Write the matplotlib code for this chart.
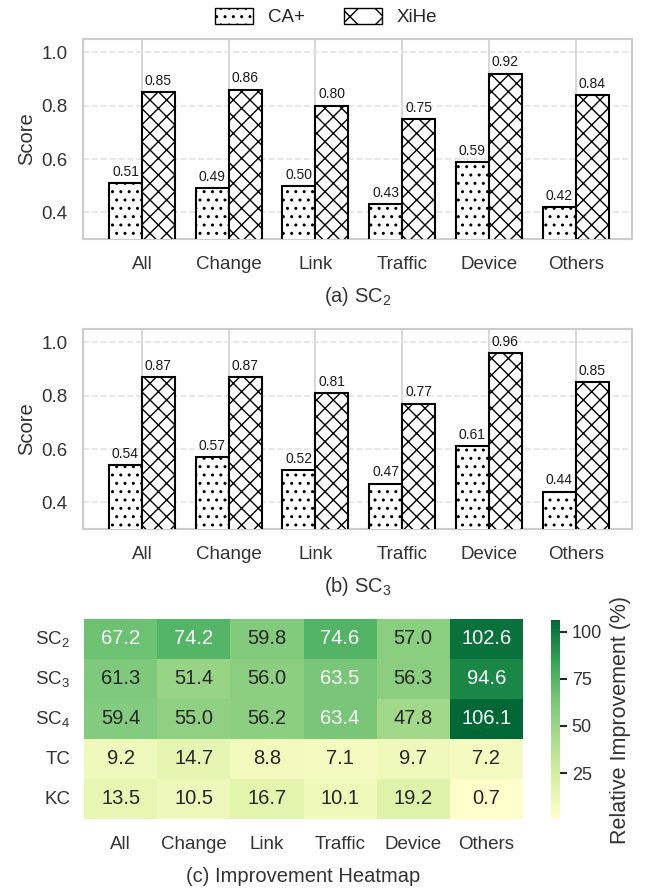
import numpy as np
import matplotlib.pyplot as plt
import matplotlib.patches as mpatches
from matplotlib.colors import LinearSegmentedColormap
import seaborn as sns

categories = ['All', 'Change', 'Link', 'Traffic', 'Device', 'Others']
sc2_ca = [0.51, 0.49, 0.50, 0.43, 0.59, 0.42]
sc2_xihe = [0.85, 0.86, 0.80, 0.75, 0.92, 0.84]
sc3_ca = [0.54, 0.57, 0.52, 0.47, 0.61, 0.44]
sc3_xihe = [0.87, 0.87, 0.81, 0.77, 0.96, 0.85]
heat_rows = ['SC$_2$', 'SC$_3$', 'SC$_4$', 'TC', 'KC']
heat_vals = [
    [67.2, 74.2, 59.8, 74.6, 57.0, 102.6],
    [61.3, 51.4, 56.0, 63.5, 56.3, 94.6],
    [59.4, 55.0, 56.2, 63.4, 47.8, 106.1],
    [9.2, 14.7, 8.8, 7.1, 9.7, 7.2],
    [13.5, 10.5, 16.7, 10.1, 19.2, 0.7],
]

sns.set_theme(style='whitegrid')
plt.rcParams['font.family'] = ['Liberation Sans', 'DejaVu Sans']
plt.rcParams['mathtext.fontset'] = 'custom'
plt.rcParams['mathtext.rm'] = 'Liberation Sans'
plt.rcParams['mathtext.it'] = 'Liberation Sans:italic'
plt.rcParams['hatch.linewidth'] = 1.0

# 6-class brewer YlGn
ylgn6 = LinearSegmentedColormap.from_list(
    'ylgn6', ['#ffffcc', '#d9f0a3', '#addd8e', '#78c679', '#31a354', '#006837'])

W, H = 646, 888
fig = plt.figure(figsize=(W / 100, H / 100), dpi=100)


def box(l, t, r, b):
    # pixel box -> figure fraction
    return [l / W, 1 - b / H, (r - l) / W, (b - t) / H]


def bar_panel(ax, ca, xihe, label):
    x = np.arange(len(categories))
    w = 0.38
    b1 = ax.bar(x - w / 2, ca, w, color='white', edgecolor='black', hatch='..', lw=1.5, zorder=3)
    b2 = ax.bar(x + w / 2, xihe, w, color='white', edgecolor='black', hatch='xx', lw=1.5, zorder=3)
    ax.bar_label(b1, fmt='%.2f', padding=3, fontsize=10, color='#1a1a1a')
    ax.bar_label(b2, fmt='%.2f', padding=3, fontsize=10, color='#1a1a1a')
    ax.set_ylim(0.3, 1.05)
    ax.set_yticks([0.4, 0.6, 0.8, 1.0])
    ax.set_xlim(-0.68, 5.65)
    ax.set_xticks(x)
    ax.set_xticklabels(categories)
    ax.tick_params(axis='x', labelsize=13.5, pad=6, colors='#333333')
    ax.tick_params(axis='y', labelsize=13.5, pad=5, colors='#333333')
    ax.yaxis.grid(True, ls='--', color='#e3e3e3', lw=1.2)
    ax.xaxis.grid(True, ls='-', color='#d0d0d0', lw=1.2)
    ax.set_axisbelow(True)
    for s in ax.spines.values():
        s.set_color('#cccccc')
        s.set_linewidth(1.5)
    ax.set_ylabel('Score', fontsize=14.5, color='#333333', labelpad=4)
    ax.set_xlabel(label, fontsize=14.5, color='#333333', labelpad=9)


ax1 = fig.add_axes(box(83, 39, 632, 239))
bar_panel(ax1, sc2_ca, sc2_xihe, '(a) SC$_2$')
ax2 = fig.add_axes(box(83, 329, 632, 529))
bar_panel(ax2, sc3_ca, sc3_xihe, '(b) SC$_3$')

handles = [mpatches.Patch(facecolor='white', edgecolor='black', hatch='..', label='CA+'),
           mpatches.Patch(facecolor='white', edgecolor='black', hatch='x', label='XiHe')]
fig.legend(handles=handles, loc='upper center', bbox_to_anchor=(0.505, 1.01), ncol=2,
           frameon=False, fontsize=13.5, handlelength=2.0, handleheight=0.9, columnspacing=2.1)

ax3 = fig.add_axes(box(84, 619, 523, 819))
cax = fig.add_axes(box(551, 620, 560, 819))
vals = np.array(heat_vals)
sns.heatmap(vals, ax=ax3, cbar_ax=cax, cmap=ylgn6, annot=False,
            xticklabels=categories, yticklabels=heat_rows)
for i in range(vals.shape[0]):
    for j in range(vals.shape[1]):
        ax3.text(j + 0.5, i + 0.5, f'{vals[i, j]:.1f}', ha='center', va='center', fontsize=14.5,
                 color='white' if vals[i, j] > 62 else '#262626')
ax3.tick_params(axis='x', labelsize=13.5, pad=12, length=0, colors='#333333')
ax3.tick_params(axis='y', labelsize=13.5, pad=10, length=0, colors='#333333', rotation=0)
ax3.set_xlabel('(c) Improvement Heatmap', fontsize=14.5, color='#333333', labelpad=10)
cax.set_yticks([25, 50, 75, 100])
cax.tick_params(axis='y', right=True, length=5, width=1.5, color='#262626', labelsize=13, colors='#333333')
cax.tick_params(axis='y', color='#262626')
cax.set_ylabel('Relative Improvement (%)', fontsize=15.5, color='#333333', labelpad=6)
for s in cax.spines.values():
    s.set_visible(False)

fig.savefig('out.png', dpi=100)
